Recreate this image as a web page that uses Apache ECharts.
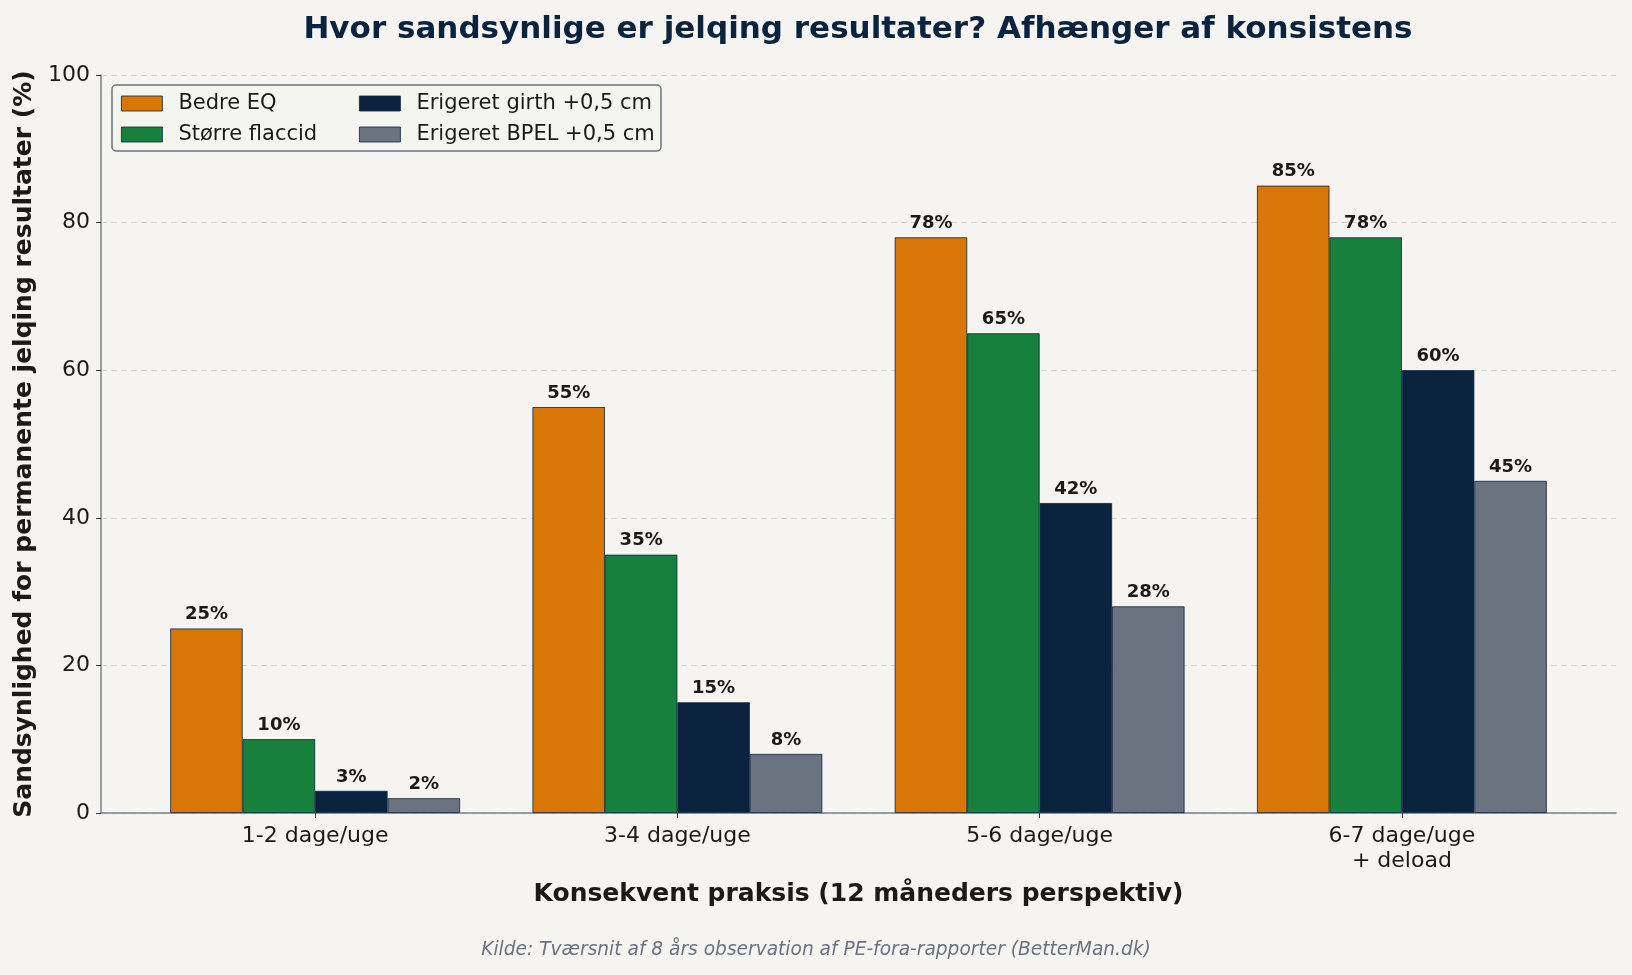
<!DOCTYPE html>
<html>
<head>
<meta charset="utf-8">
<script src="https://cdn.jsdelivr.net/npm/echarts@6/dist/echarts.min.js"></script>
<style>
	html, body { margin: 0; padding: 0; background: #f5f4f0; }
	#mychart { width: 1632px; height: 975px; }
</style>
</head>
<body>
<div id="mychart"></div>
<script>
var categories = ['1-2 dage/uge', '3-4 dage/uge', '5-6 dage/uge', '6-7 dage/uge\n+ deload'];
var seriesNames = ['Bedre EQ', 'Større flaccid', 'Erigeret girth +0,5 cm', 'Erigeret BPEL +0,5 cm'];
var bedreEQ = [25, 55, 78, 85];
var stoerreFlaccid = [10, 35, 65, 78];
var erigeretGirth = [3, 15, 42, 60];
var erigeretBPEL = [2, 8, 28, 45];
var yTicks = [0, 20, 40, 60, 80, 100];

var colors = ['#d97706', '#16803c', '#0c2340', '#6b7280'];
var font = 'DejaVu Sans';

var chart = {
	initial : function initial() {
		this.drawChart();
	},

	makeSeries : function makeSeries(name, data, color) {
		return {
			name : name,
			type : 'bar',
			xAxisIndex : 1,
			yAxisIndex : 1,
			data : data,
			barGap : '0%',
			barCategoryGap : '20%',
			itemStyle : {
				color : color,
				borderColor : '#0c2340',
				borderWidth : 0.8
			},
			label : {
				show : true,
				position : 'top',
				distance : 5,
				formatter : '{c}%',
				fontFamily : font,
				fontWeight : 'bold',
				fontSize : 18,
				color : '#1a1a1a'
			}
		};
	},

	legendColumn : function legendColumn(left, names) {
		return {
			left : left,
			top : 93,
			padding : 0,
			orient : 'vertical',
			icon : 'rect',
			itemWidth : 41,
			itemHeight : 15,
			itemGap : 10,
			data : names,
			itemStyle : { borderColor : '#0c2340', borderWidth : 0.8 },
			textStyle : { fontFamily : font, fontSize : 21, color : '#1a1a1a', padding : [0, 0, 0, 11] }
		};
	},

	drawChart : function drawChart() {
		// plot frame: x from 101 to 1616, y from 75 to 813
		var option = {
			backgroundColor : '#f5f4f0',
			animation : false,
			textStyle : { fontFamily : font },
			title : [{
				text : 'Hvor sandsynlige er jelqing resultater? Afhænger af konsistens',
				left : 858,
				top : 14,
				textAlign : 'center',
				padding : 0,
				textStyle : { fontFamily : font, fontWeight : 'bold', fontSize : 31, color : '#0c2340' }
			}, {
				text : 'Kilde: Tværsnit af 8 års observation af PE-fora-rapporter (BetterMan.dk)',
				left : 'center',
				top : 941,
				padding : 0,
				textStyle : { fontFamily : font, fontStyle : 'italic', fontWeight : 'normal', fontSize : 18.6, color : '#6b7280' }
			}],
			legend : [
				chart.legendColumn(121, [seriesNames[0], seriesNames[1]]),
				chart.legendColumn(359, [seriesNames[2], seriesNames[3]])
			],
			graphic : [{
				type : 'rect',
				z : 1,
				shape : { x : 112, y : 85, width : 549, height : 66, r : 4 },
				style : { fill : 'rgba(245,244,240,0.85)', stroke : '#6b7280', lineWidth : 1.5 }
			}],
			grid : [
				{ left : 101, right : 16, top : 75, bottom : 162 },
				{ left : 134, right : 49, top : 75, bottom : 162 }
			],
			xAxis : [{
				type : 'value',
				gridIndex : 0,
				min : 0,
				max : 1,
				axisLine : { show : true, lineStyle : { color : '#7a7f8a', width : 1.5 } },
				axisTick : { show : false },
				axisLabel : { show : false },
				splitLine : { show : false },
				name : 'Konsekvent praksis (12 måneders perspektiv)',
				nameLocation : 'middle',
				nameGap : 69,
				nameTextStyle : { fontFamily : font, fontWeight : 'bold', fontSize : 25, color : '#1a1a1a' }
			}, {
				type : 'category',
				gridIndex : 1,
				data : categories,
				axisLine : { show : false },
				axisTick : { show : true, alignWithLabel : true, length : 5, lineStyle : { color : '#333333' } },
				axisLabel : { fontFamily : font, fontSize : 22, color : '#1a1a1a', margin : 11, lineHeight : 25 }
			}],
			yAxis : [{
				type : 'value',
				gridIndex : 0,
				min : yTicks[0],
				max : yTicks[yTicks.length - 1],
				interval : 20,
				axisLine : { show : true, lineStyle : { color : '#7a7f8a', width : 1.5 } },
				axisTick : { show : true, length : 5, lineStyle : { color : '#333333' } },
				axisLabel : { fontFamily : font, fontSize : 22, color : '#1a1a1a', margin : 11 },
				splitLine : { show : true, lineStyle : { color : '#d4d4d4', type : [6, 4], width : 1 } },
				name : 'Sandsynlighed for permanente jelqing resultater (%)',
				nameLocation : 'middle',
				nameGap : 58,
				nameTextStyle : { fontFamily : font, fontWeight : 'bold', fontSize : 25, color : '#1a1a1a' }
			}, {
				type : 'value',
				gridIndex : 1,
				min : 0,
				max : 100,
				show : false
			}],
			series : [
				chart.makeSeries(seriesNames[0], bedreEQ, colors[0]),
				chart.makeSeries(seriesNames[1], stoerreFlaccid, colors[1]),
				chart.makeSeries(seriesNames[2], erigeretGirth, colors[2]),
				chart.makeSeries(seriesNames[3], erigeretBPEL, colors[3])
			]
		};
		var myChart = echarts.init(document.getElementById('mychart'));
		myChart.setOption(option);
	}
};

chart.initial();
</script>
</body>
</html>
